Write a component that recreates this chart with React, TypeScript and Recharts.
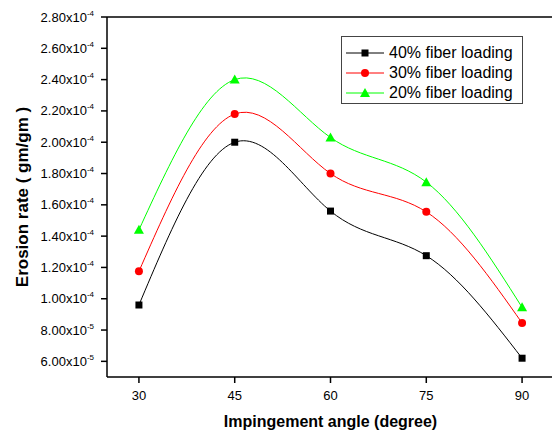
import React from "react";
import {
  LineChart,
  Line,
  XAxis,
  YAxis,
  ReferenceLine,
} from "recharts";

const ANGLES = [30, 45, 60, 75, 90];
const LOAD_40 = [9.6e-5, 2.0e-4, 1.56e-4, 1.275e-4, 6.2e-5];
const LOAD_30 = [1.175e-4, 2.18e-4, 1.8e-4, 1.555e-4, 8.45e-5];
const LOAD_20 = [1.44e-4, 2.4e-4, 2.03e-4, 1.745e-4, 9.45e-5];

const Y_TICKS = [
  6e-5, 8e-5, 1e-4, 1.2e-4, 1.4e-4, 1.6e-4, 1.8e-4, 2.0e-4, 2.2e-4, 2.4e-4,
  2.6e-4, 2.8e-4,
];

const SERIES = [
  { key: "l40", name: "40% fiber loading", color: "#000000", shape: "square" },
  { key: "l30", name: "30% fiber loading", color: "#ff0000", shape: "circle" },
  { key: "l20", name: "20% fiber loading", color: "#00ff00", shape: "triangle" },
];

const FONT = "'Liberation Sans', Arial, Helvetica, sans-serif";

const data = ANGLES.map((a, i) => ({
  angle: a,
  l40: LOAD_40[i],
  l30: LOAD_30[i],
  l20: LOAD_20[i],
}));

function Marker({ shape, color, cx, cy }: { shape: string; color: string; cx: number; cy: number }) {
  if (shape === "square") {
    return <rect x={cx - 3.5} y={cy - 3.5} width={7} height={7} fill={color} />;
  }
  if (shape === "circle") {
    return <circle cx={cx} cy={cy} r={4} fill={color} />;
  }
  return (
    <polygon
      points={`${cx},${cy - 5} ${cx + 5},${cy + 4} ${cx - 5},${cy + 4}`}
      fill={color}
    />
  );
}

function YTick(props: any) {
  const { x, y, payload } = props;
  const v = payload.value;
  const exp = v >= 9.99e-5 ? -4 : -5;
  const mant = (v / Math.pow(10, exp)).toFixed(2);
  return (
    <text x={x - 5} y={y} dy={4.5} textAnchor="end" fontSize={13} fontFamily={FONT} fill="#000">
      {mant}x10
      <tspan fontSize={8} dy={-6}>
        {String(exp)}
      </tspan>
    </text>
  );
}

function YTitle(props: any) {
  const vb = props.viewBox;
  const x = vb.x + 28;
  const y = vb.y + vb.height / 2;
  return (
    <text
      x={x}
      y={y}
      transform={`rotate(-90, ${x}, ${y})`}
      textAnchor="middle"
      fontSize={17}
      fontWeight="bold"
      fontFamily={FONT}
      fill="#000"
    >
      Erosion rate ( gm/gm )
    </text>
  );
}

function LegendBox() {
  return (
    <div
      style={{
        position: "absolute",
        left: 341,
        top: 36,
        width: 182,
        height: 68,
        boxSizing: "border-box",
        border: "1px solid #444",
        background: "#fff",
        paddingTop: 6,
        paddingLeft: 4,
        fontFamily: FONT,
        fontSize: 16,
        color: "#000",
      }}
    >
      {SERIES.map((s) => (
        <div key={s.key} style={{ display: "flex", alignItems: "center", height: 20 }}>
          <svg width={38} height={14} style={{ flex: "none" }}>
            <line x1={0} y1={7} x2={38} y2={7} stroke={s.color} strokeWidth={1} />
            <Marker shape={s.shape} color={s.color} cx={19} cy={7} />
          </svg>
          <span style={{ marginLeft: 5, whiteSpace: "nowrap", lineHeight: "20px" }}>{s.name}</span>
        </div>
      ))}
    </div>
  );
}

export default function App() {
  return (
    <div
      style={{
        position: "absolute",
        left: 0,
        top: 0,
        width: 552,
        height: 432,
        overflow: "hidden",
        background: "#fff",
      }}
    >
      <LineChart
        width={560}
        height={432}
        data={data}
        margin={{ top: 17, right: 6, bottom: 0, left: 0 }}
      >
        <XAxis
          dataKey="angle"
          type="number"
          domain={[25, 95]}
          ticks={ANGLES}
          height={55}
          tickSize={6}
          tickMargin={8}
          axisLine={{ stroke: "#000", strokeWidth: 1.5 }}
          tickLine={{ stroke: "#000", strokeWidth: 1.5 }}
          tick={{ fontSize: 13, fontFamily: FONT, fill: "#000" }}
          label={{
            value: "Impingement angle (degree)",
            position: "insideBottom",
            offset: 5,
            fontSize: 16,
            fontWeight: "bold",
            fontFamily: FONT,
            fill: "#000",
          }}
        />
        <YAxis
          type="number"
          domain={[5e-5, 2.8e-4]}
          ticks={Y_TICKS}
          width={107}
          tickSize={6}
          axisLine={{ stroke: "#000", strokeWidth: 1.5 }}
          tickLine={{ stroke: "#000", strokeWidth: 1.5 }}
          tick={<YTick />}
          label={(p: any) => <YTitle {...p} />}
        />
        <ReferenceLine y={2.8e-4} stroke="#000" strokeWidth={1.5} />
        {SERIES.map((s) => (
          <Line
            key={s.key}
            type="natural"
            dataKey={s.key}
            name={s.name}
            stroke={s.color}
            strokeWidth={1}
            isAnimationActive={false}
            dot={(p: any) => (
              <Marker key={`${s.key}-${p.index}`} shape={s.shape} color={s.color} cx={p.cx} cy={p.cy} />
            )}
            activeDot={false}
          />
        ))}
      </LineChart>
      <LegendBox />
    </div>
  );
}
